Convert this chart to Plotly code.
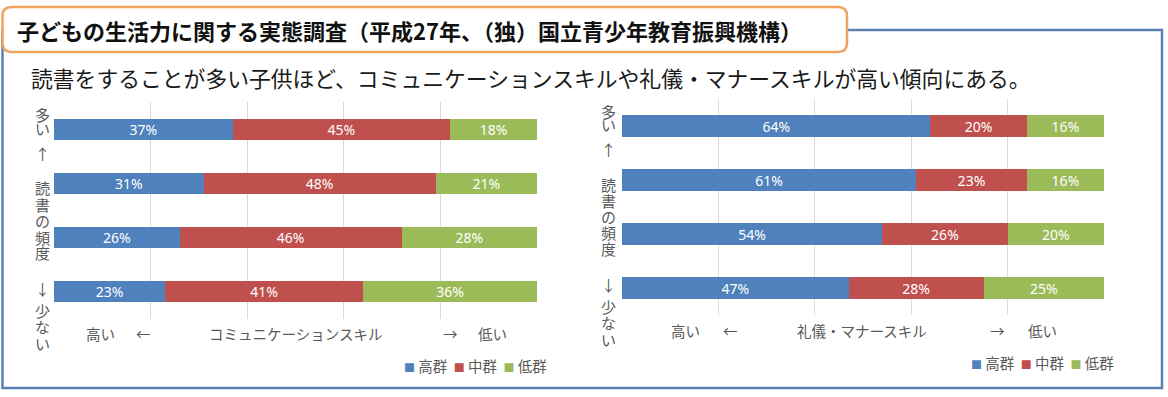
import plotly.graph_objects as go

W, H = 1168, 397

# ---------------- data ----------------
categories = ["読書頻度：多い", "読書頻度：やや多い", "読書頻度：やや少ない", "読書頻度：少ない"]
series_names = ["高群", "中群", "低群"]
series_colors = ["#4F81BD", "#C0504D", "#9BBB59"]

comm_high = [37, 31, 26, 23]
comm_mid = [45, 48, 46, 41]
comm_low = [18, 21, 28, 36]

manner_high = [64, 61, 54, 47]
manner_mid = [20, 23, 26, 28]
manner_low = [16, 16, 20, 25]

x_ticks = [0, 20, 40, 60, 80, 100]

title_text = "子どもの生活力に関する実態調査（平成27年、（独）国立青少年教育振興機構）"
subtitle_text = "読書をすることが多い子供ほど、コミュニケーションスキルや礼儀・マナースキルが高い傾向にある。"
panel1_skill = "コミュニケーションスキル"
panel2_skill = "礼儀・マナースキル"
y_label_chars = ["多", "い", "↑", "読", "書", "の", "頻", "度", "↓", "少", "な", "い"]

JP = "Noto Sans CJK JP"
GRAY = "#595959"


def px(x):
    return x / W


def py(y):
    return 1 - y / H


fig = go.Figure()

panels = [
    ("x", "y", [comm_high, comm_mid, comm_low]),
    ("x2", "y2", [manner_high, manner_mid, manner_low]),
]
for xa, ya, vals_list in panels:
    for name, color, vals in zip(series_names, series_colors, vals_list):
        fig.add_trace(go.Bar(
            y=categories, x=vals, orientation="h", name=name,
            marker=dict(color=color, line=dict(width=0)),
            text=vals, texttemplate="%{x}%", textposition="inside",
            insidetextanchor="middle", textangle=0, constraintext="none",
            textfont=dict(color="white", size=14, family="Noto Sans"),
            xaxis=xa, yaxis=ya, showlegend=False, hoverinfo="skip",
        ))

xcommon = dict(range=[0, 100], tickvals=x_ticks, showticklabels=False,
               showgrid=True, gridcolor="#D9D9D9", gridwidth=1,
               zeroline=False, showline=False, fixedrange=True)
ycommon = dict(type="category", categoryarray=categories, autorange="reversed",
               showticklabels=False, showgrid=False, zeroline=False,
               showline=False, fixedrange=True)

fig.update_layout(
    width=W, height=H,
    margin=dict(l=0, r=0, t=0, b=0),
    paper_bgcolor="white", plot_bgcolor="rgba(0,0,0,0)",
    barmode="stack", bargap=0.61,
    font=dict(family=JP, color=GRAY),
    xaxis=dict(domain=[px(54), px(537)], anchor="y", **xcommon),
    yaxis=dict(domain=[py(319), py(102)], anchor="x", **ycommon),
    xaxis2=dict(domain=[px(622), px(1104)], anchor="y2", **xcommon),
    yaxis2=dict(domain=[py(315), py(99)], anchor="x2", **ycommon),
    showlegend=False,
)


# ---------------- frames ----------------
def rounded_path(x0, y0, x1, y1, r):
    def P(x, y):
        return f"{px(x)},{py(y)}"
    return " ".join([
        f"M{P(x0 + r, y0)}", f"L{P(x1 - r, y0)}", f"Q{P(x1, y0)} {P(x1, y0 + r)}",
        f"L{P(x1, y1 - r)}", f"Q{P(x1, y1)} {P(x1 - r, y1)}",
        f"L{P(x0 + r, y1)}", f"Q{P(x0, y1)} {P(x0, y1 - r)}",
        f"L{P(x0, y0 + r)}", f"Q{P(x0, y0)} {P(x0 + r, y0)}Z",
    ])


shapes = [
    dict(type="rect", xref="paper", yref="paper",
         x0=px(2.5), x1=px(1162), y0=py(388), y1=py(30),
         line=dict(color="#5B80B2", width=2.5), fillcolor="rgba(0,0,0,0)",
         layer="below"),
    dict(type="path", xref="paper", yref="paper",
         path=rounded_path(2.5, 7, 847, 52, 9),
         line=dict(color="#F0A35E", width=2.5), fillcolor="white",
         layer="below"),
]
fig.update_layout(shapes=shapes)

ann = []
ann.append(dict(text=f"<b>{title_text}</b>", x=px(15), y=py(30),
                xanchor="left", yanchor="middle",
                font=dict(size=22, color="#111111", family=JP)))
ann.append(dict(text=subtitle_text, x=px(29), y=py(78),
                xanchor="left", yanchor="middle",
                font=dict(size=21.8, color="#1A1A1A", family=JP)))

# vertical y-axis labels
char_y1 = [115, 128, 153, 188, 204, 220, 237, 252, 288, 310, 326, 343]
for cx, dy in [(42, 0), (609, -4)]:
    for ch, yy in zip(y_label_chars, char_y1):
        ann.append(dict(text=ch, x=px(cx), y=py(yy + dy), xanchor="center",
                        yanchor="middle", font=dict(size=15, color=GRAY, family=JP)))

# bottom skill labels
bottom = [
    (333, [("高い", 100), ("←", 143), (panel1_skill, 295), ("→", 450), ("低い", 492)]),
    (330, [("高い", 685), ("←", 730), (panel2_skill, 862), ("→", 997), ("低い", 1042)]),
]
for yy, items in bottom:
    for t, xx in items:
        ann.append(dict(text=t, x=px(xx), y=py(yy), xanchor="center",
                        yanchor="middle", font=dict(size=14.5, color=GRAY, family=JP)))

# legends
legend_html = "&nbsp;&nbsp;".join(
    f'<span style="color:{c};font-size:11px">■</span>&nbsp;{n}'
    for n, c in zip(series_names, series_colors))
for xx, yy in [(475, 365), (1042, 362)]:
    ann.append(dict(text=legend_html, x=px(xx), y=py(yy), xanchor="center",
                    yanchor="middle", font=dict(size=14.5, color=GRAY, family=JP)))

for a in ann:
    a.update(xref="paper", yref="paper", showarrow=False)
fig.update_layout(annotations=ann)

fig.write_html("out.html", config={"displayModeBar": False},
               post_script="document.body.style.margin='0px';")
